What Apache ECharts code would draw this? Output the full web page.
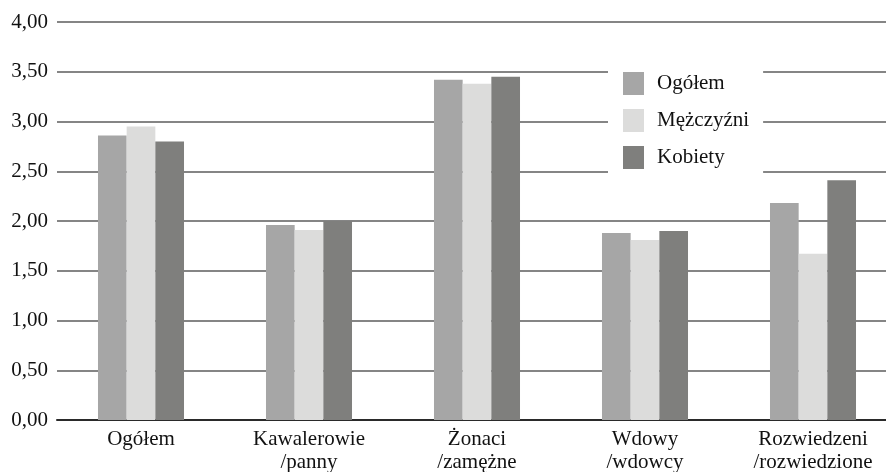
<!DOCTYPE html>
<html><head><meta charset="utf-8">
<script src="https://cdn.jsdelivr.net/npm/echarts@6/dist/echarts.min.js"></script>
<style>html,body{margin:0;padding:0;background:#fff}#c{width:886px;height:472px}</style>
</head><body><div id="c"></div>
<script>
const categories = ['Ogółem', 'Kawalerowie\n/panny', 'Żonaci\n/zamężne', 'Wdowy\n/wdowcy', 'Rozwiedzeni\n/rozwiedzione'];
const seriesNames = ['Ogółem', 'Mężczyźni', 'Kobiety'];
const ogolem = [2.86, 1.96, 3.42, 1.88, 2.18];
const mezczyzni = [2.95, 1.91, 3.38, 1.81, 1.67];
const kobiety = [2.80, 2.00, 3.45, 1.90, 2.41];
const yTicks = [0, 0.5, 1, 1.5, 2, 2.5, 3, 3.5, 4];
const colors = ['#a6a6a6', '#dcdcdb', '#7f7f7d'];
const font = 'Liberation Serif';

const chart = echarts.init(document.getElementById('c'));
const values = [ogolem, mezczyzni, kobiety];
chart.setOption({
  animation: false,
  textStyle: {fontFamily: font},
  grid: {left: 57, top: 22, width: 840, height: 398, containLabel: false, outerBoundsMode: 'none'},
  legend: {
    orient: 'vertical', left: 608, top: 60,
    padding: [12, 14, 16, 15],
    backgroundColor: '#ffffff',
    itemWidth: 21, itemHeight: 23, itemGap: 14,
    icon: 'rect',
    textStyle: {fontFamily: font, fontSize: 21, color: '#111', padding: [0, 0, 0, 8]},
    data: seriesNames
  },
  xAxis: {
    type: 'category', data: categories,
    axisLine: {show: true, lineStyle: {color: '#2a2a2a', width: 2}},
    axisTick: {show: false},
    axisLabel: {fontFamily: font, fontSize: 21, color: '#111', margin: 8, lineHeight: 23, interval: 0}
  },
  yAxis: {
    type: 'value', min: 0, max: 4, interval: 0.5,
    axisLine: {show: false}, axisTick: {show: false},
    splitLine: {lineStyle: {color: '#858585', width: 2}},
    axisLabel: {fontFamily: font, fontSize: 21, color: '#111', margin: 9,
      formatter: v => yTicks.includes(v) ? v.toFixed(2).replace('.', ',') : ''}
  },
  series: seriesNames.map((n, i) => ({
    name: n, type: 'bar', data: values[i],
    barGap: 0, barCategoryGap: '48.8%',
    itemStyle: {color: colors[i]}
  }))
});
</script></body></html>
